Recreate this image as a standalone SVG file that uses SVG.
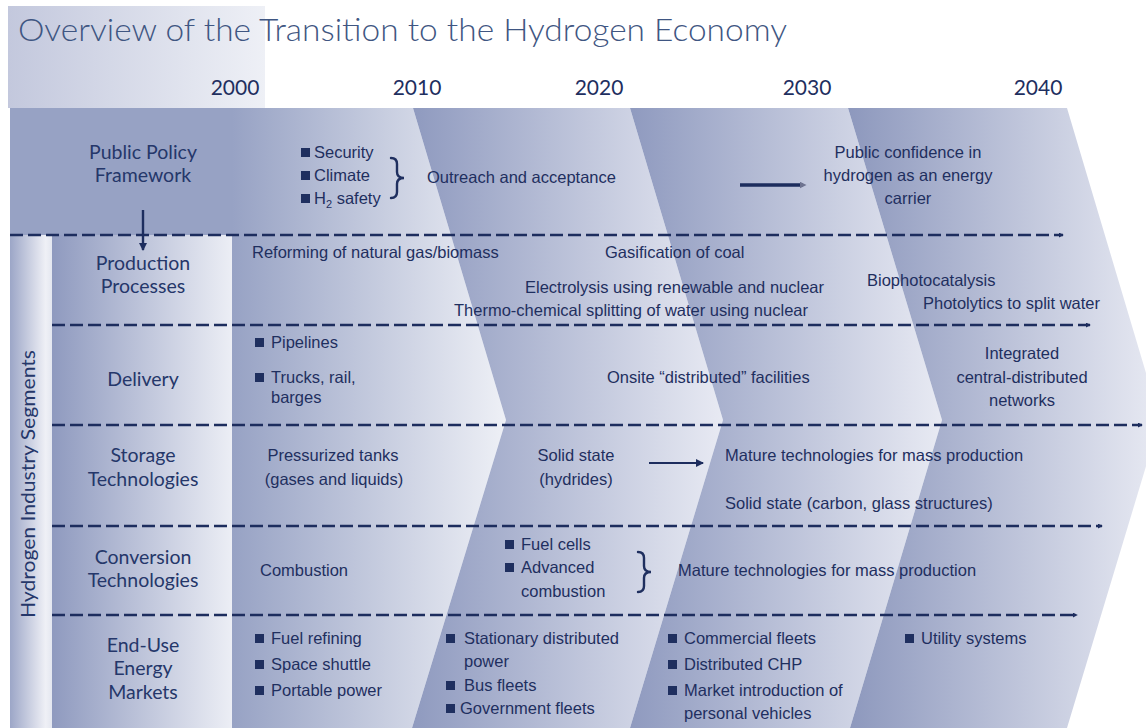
<svg xmlns="http://www.w3.org/2000/svg" width="1146" height="728" viewBox="0 0 1146 728">
<defs>
<linearGradient id="gTitle" gradientUnits="userSpaceOnUse" x1="8" y1="0" x2="265" y2="0"><stop offset="0" stop-color="#c3c8dd"/><stop offset="1" stop-color="#eef0f6"/></linearGradient>
<linearGradient id="gC1" gradientUnits="userSpaceOnUse" x1="232" y1="0" x2="506" y2="0"><stop offset="0" stop-color="#97a2c4"/><stop offset="1" stop-color="#eef0f6"/></linearGradient>
<linearGradient id="gC2" gradientUnits="userSpaceOnUse" x1="413" y1="0" x2="723" y2="0"><stop offset="0" stop-color="#8f9abf"/><stop offset="1" stop-color="#e8eaf3"/></linearGradient>
<linearGradient id="gC3" gradientUnits="userSpaceOnUse" x1="630" y1="0" x2="942" y2="0"><stop offset="0" stop-color="#8f9abf"/><stop offset="1" stop-color="#e8eaf3"/></linearGradient>
<linearGradient id="gC4" gradientUnits="userSpaceOnUse" x1="848" y1="0" x2="1160" y2="0"><stop offset="0" stop-color="#8d98bd"/><stop offset="1" stop-color="#e8eaf3"/></linearGradient>
<linearGradient id="gStrip" gradientUnits="userSpaceOnUse" x1="10" y1="0" x2="52" y2="0"><stop offset="0" stop-color="#9ca6c7"/><stop offset="0.85" stop-color="#eff0f6"/><stop offset="1" stop-color="#e4e7f0"/></linearGradient>
<linearGradient id="gLabel" gradientUnits="userSpaceOnUse" x1="52" y1="0" x2="232" y2="0"><stop offset="0" stop-color="#8f9abf"/><stop offset="1" stop-color="#eceef5"/></linearGradient>
<marker id="ah" viewBox="0 0 6 6" refX="5" refY="3" markerWidth="5" markerHeight="5" markerUnits="userSpaceOnUse" orient="auto"><path d="M0,0 L6,3 L0,6 z" fill="#1d2d5e"/></marker>
<marker id="ahg" viewBox="0 0 6 6" refX="3" refY="3" markerWidth="7" markerHeight="7" markerUnits="userSpaceOnUse" orient="auto"><path d="M0,0 L6,3 L0,6 z" fill="#6e7390"/></marker>
<marker id="ahd" viewBox="0 0 8 8" refX="7" refY="4" markerWidth="8" markerHeight="8" markerUnits="userSpaceOnUse" orient="auto"><path d="M0,0 L8,4 L0,8 z" fill="#1d2d5e"/></marker>
</defs>
<style>
.t{font-family:"Liberation Sans",Arial,sans-serif;font-size:16.5px;fill:#1f2f5f}
.c{text-anchor:middle}
.h{font-family:Lato,"Open Sans",sans-serif;fill:#25376a}
.seg{font-size:19.5px;text-anchor:middle}
.yr{font-size:21px;text-anchor:middle;fill:#1f2f5f}
.b{fill:#1f2f5f}
.dash{stroke:#1d2d5e;stroke-width:2.6;stroke-dasharray:13 5;fill:none}
.ln{stroke:#1d2d5e;fill:none}
.br{stroke:#1f2f5f;stroke-width:2.4;fill:none;stroke-linecap:round}
</style>
<rect width="1146" height="728" fill="#ffffff"/>
<g id="background">
<rect x="8" y="6" width="257" height="102" fill="url(#gTitle)"/>
<polygon points="10,108 413,108 506,420 412,728 10,728" fill="url(#gC1)"/>
<polygon points="413,108 630,108 723,420 630,728 412,728 506,420" fill="url(#gC2)"/>
<polygon points="630,108 848,108 942,420 850,728 630,728 723,420" fill="url(#gC3)"/>
<polygon points="848,108 1067,108 1160,420 1067,728 850,728 942,420" fill="url(#gC4)"/>
<rect x="10" y="235" width="42" height="493" fill="url(#gStrip)"/>
<rect x="52" y="235" width="180" height="493" fill="url(#gLabel)"/>
</g>
<g id="title">
<text x="18" y="41" font-family="Lato,'Open Sans',sans-serif" font-weight="300" font-size="32" fill="#3f5682" textLength="769" lengthAdjust="spacingAndGlyphs">Overview of the Transition to the Hydrogen Economy</text>
</g>
<g id="years">
<text x="235" y="95" class="h yr">2000</text>
<text x="417" y="95" class="h yr">2010</text>
<text x="599" y="95" class="h yr">2020</text>
<text x="807" y="95" class="h yr">2030</text>
<text x="1038" y="95" class="h yr">2040</text>
</g>
<g id="segments-axis">
<text class="h" font-size="19.5" text-anchor="middle" transform="translate(35,484) rotate(-90)" textLength="268" lengthAdjust="spacingAndGlyphs">Hydrogen Industry Segments</text>
</g>
<g id="connectors">
<line class="dash" x1="10" y1="235" x2="1063" y2="235" marker-end="url(#ah)"/>
<line class="dash" x1="52" y1="325" x2="1090" y2="325" marker-end="url(#ah)"/>
<line class="dash" x1="52" y1="425" x2="1142" y2="425" marker-end="url(#ah)"/>
<line class="dash" x1="52" y1="526" x2="1102" y2="526" marker-end="url(#ah)"/>
<line class="dash" x1="52" y1="615" x2="1077" y2="615" marker-end="url(#ah)"/>
<line class="ln" x1="143" y1="210" x2="143" y2="250" stroke-width="2.4" marker-end="url(#ahd)"/>
<line class="ln" x1="740" y1="185" x2="803" y2="185" stroke-width="3.4" marker-end="url(#ahg)"/>
<line class="ln" x1="649" y1="463" x2="703" y2="463" stroke-width="2" marker-end="url(#ahd)"/>
</g>
<g id="row-policy">
<text class="h seg" x="143" y="159">Public Policy</text>
<text class="h seg" x="143" y="182">Framework</text>
<rect class="b" x="301" y="148" width="9" height="9"/><text class="t" x="314" y="158">Security</text>
<rect class="b" x="301" y="171" width="9" height="9"/><text class="t" x="314" y="181">Climate</text>
<rect class="b" x="301" y="194" width="9" height="9"/><text class="t" x="314" y="204">H<tspan font-size="11" dy="4">2</tspan><tspan dy="-4"> safety</tspan></text>
<path class="br" d="M391,158 q6,0 6,6 v8 q0,6 7,6 q-7,0 -7,6 v8 q0,6 -6,6"/>
<text class="t" x="427" y="183">Outreach and acceptance</text>
<text class="t c" x="908" y="158">Public confidence in</text>
<text class="t c" x="908" y="181">hydrogen as an energy</text>
<text class="t c" x="908" y="204">carrier</text>
</g>
<g id="row-production">
<text class="h seg" x="143" y="270">Production</text>
<text class="h seg" x="143" y="293">Processes</text>
<text class="t" x="252" y="258">Reforming of natural gas/biomass</text>
<text class="t" x="605" y="258">Gasification of coal</text>
<text class="t" x="525" y="293">Electrolysis using renewable and nuclear</text>
<text class="t" x="454" y="316">Thermo-chemical splitting of water using nuclear</text>
<text class="t" x="867" y="286">Biophotocatalysis</text>
<text class="t" x="923" y="309">Photolytics to split water</text>
</g>
<g id="row-delivery">
<text class="h seg" x="143" y="386">Delivery</text>
<rect class="b" x="255" y="338" width="9" height="9"/><text class="t" x="271" y="348">Pipelines</text>
<rect class="b" x="255" y="373" width="9" height="9"/><text class="t" x="271" y="383">Trucks, rail,</text>
<text class="t" x="271" y="403">barges</text>
<text class="t" x="607" y="383">Onsite “distributed” facilities</text>
<text class="t c" x="1022" y="359">Integrated</text>
<text class="t c" x="1022" y="383">central-distributed</text>
<text class="t c" x="1022" y="406">networks</text>
</g>
<g id="row-storage">
<text class="h seg" x="143" y="462">Storage</text>
<text class="h seg" x="143" y="486">Technologies</text>
<text class="t c" x="333" y="461">Pressurized tanks</text>
<text class="t c" x="334" y="485">(gases and liquids)</text>
<text class="t c" x="576" y="461">Solid state</text>
<text class="t c" x="576" y="485">(hydrides)</text>
<text class="t" x="725" y="461">Mature technologies for mass production</text>
<text class="t" x="725" y="509">Solid state (carbon, glass structures)</text>
</g>
<g id="row-conversion">
<text class="h seg" x="143" y="564">Conversion</text>
<text class="h seg" x="143" y="587">Technologies</text>
<text class="t" x="260" y="576">Combustion</text>
<rect class="b" x="505" y="540" width="9" height="9"/><text class="t" x="521" y="550">Fuel cells</text>
<rect class="b" x="505" y="563" width="9" height="9"/><text class="t" x="521" y="573">Advanced</text>
<text class="t" x="521" y="597">combustion</text>
<path class="br" d="M638,552 q6,0 6,6 v8 q0,6 7,6 q-7,0 -7,6 v8 q0,6 -6,6"/>
<text class="t" x="678" y="576">Mature technologies for mass production</text>
</g>
<g id="row-enduse">
<text class="h seg" x="143" y="652">End-Use</text>
<text class="h seg" x="143" y="675">Energy</text>
<text class="h seg" x="143" y="699">Markets</text>
<rect class="b" x="255" y="634" width="9" height="9"/><text class="t" x="271" y="644">Fuel refining</text>
<rect class="b" x="255" y="660" width="9" height="9"/><text class="t" x="271" y="670">Space shuttle</text>
<rect class="b" x="255" y="686" width="9" height="9"/><text class="t" x="271" y="696">Portable power</text>
<rect class="b" x="446" y="634" width="9" height="9"/><text class="t" x="464" y="644">Stationary distributed</text>
<text class="t" x="464" y="667">power</text>
<rect class="b" x="446" y="681" width="9" height="9"/><text class="t" x="464" y="691">Bus fleets</text>
<rect class="b" x="446" y="704" width="9" height="9"/><text class="t" x="460" y="714">Government fleets</text>
<rect class="b" x="668" y="634" width="9" height="9"/><text class="t" x="684" y="644">Commercial fleets</text>
<rect class="b" x="668" y="660" width="9" height="9"/><text class="t" x="684" y="670">Distributed CHP</text>
<rect class="b" x="668" y="686" width="9" height="9"/><text class="t" x="684" y="696">Market introduction of</text>
<text class="t" x="684" y="719">personal vehicles</text>
<rect class="b" x="905" y="634" width="9" height="9"/><text class="t" x="921" y="644">Utility systems</text>
</g>
</svg>
